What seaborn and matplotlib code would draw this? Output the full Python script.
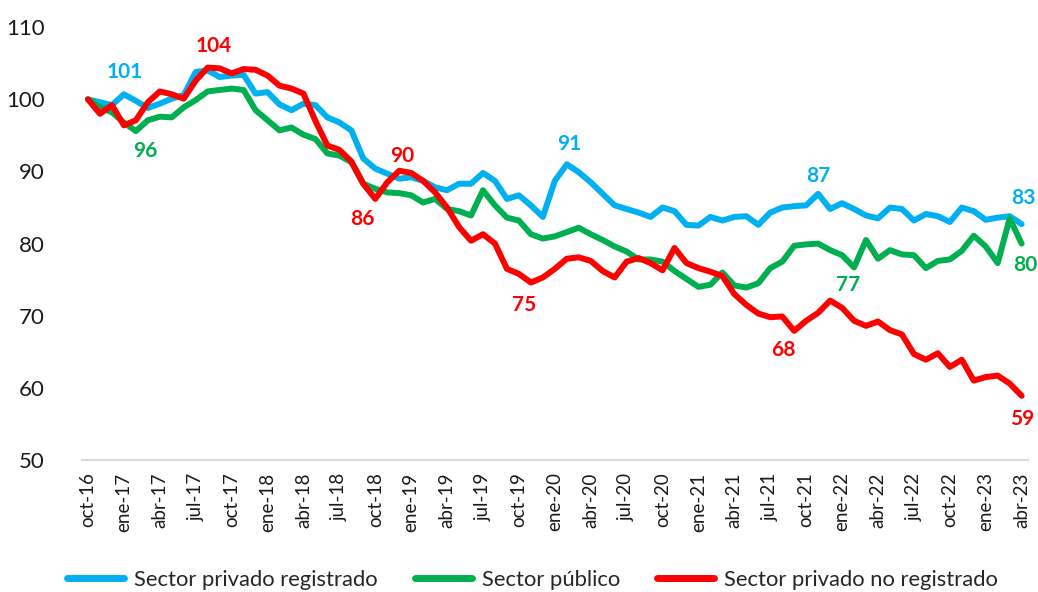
import matplotlib
matplotlib.use("Agg")
import matplotlib.pyplot as plt
import seaborn as sns
import pandas as pd
import numpy as np

# ---- data ----
series_names = ["Sector privado registrado", "Sector público", "Sector privado no registrado"]

privado_registrado = [
    100.0, 99.6, 99.2, 100.7, 99.8, 98.8, 99.4, 100.1, 100.6, 103.8,
    104.0, 103.1, 103.3, 103.4, 100.8, 101.0, 99.3, 98.5, 99.4, 99.2,
    97.5, 96.8, 95.7, 91.8, 90.4, 89.7, 89.0, 89.2, 88.7, 87.8,
    87.4, 88.3, 88.3, 89.8, 88.7, 86.2, 86.7, 85.3, 83.7, 88.7,
    91.0, 89.9, 88.5, 86.9, 85.3, 84.8, 84.3, 83.7, 85.0, 84.5,
    82.6, 82.5, 83.7, 83.2, 83.7, 83.8, 82.6, 84.3, 85.0, 85.2,
    85.3, 86.9, 84.8, 85.6, 84.8, 83.9, 83.5, 85.0, 84.8, 83.2,
    84.1, 83.8, 83.0, 85.0, 84.5, 83.3, 83.6, 83.8, 82.7,
]

publico = [
    100.0, 98.9, 98.2, 96.8, 95.6, 97.1, 97.6, 97.5, 98.9, 99.9,
    101.1, 101.3, 101.5, 101.3, 98.5, 97.1, 95.7, 96.1, 95.1, 94.5,
    92.5, 92.2, 91.3, 88.3, 87.6, 87.1, 87.0, 86.7, 85.7, 86.2,
    84.8, 84.5, 83.9, 87.4, 85.3, 83.6, 83.2, 81.3, 80.7, 81.0,
    81.6, 82.2, 81.3, 80.5, 79.6, 78.9, 77.8, 77.8, 77.5, 76.2,
    75.1, 74.0, 74.3, 76.0, 74.2, 73.9, 74.5, 76.6, 77.5, 79.7,
    79.9, 80.0, 79.1, 78.4, 76.7, 80.5, 77.9, 79.1, 78.5, 78.4,
    76.6, 77.6, 77.8, 79.0, 81.1, 79.6, 77.3, 83.5, 80.0,
]

privado_no_registrado = [
    100.0, 98.0, 99.2, 96.4, 97.1, 99.6, 101.1, 100.7, 100.1, 102.6,
    104.4, 104.3, 103.6, 104.2, 104.1, 103.3, 101.9, 101.5, 100.8, 97.0,
    93.6, 93.0, 91.4, 88.3, 86.2, 88.5, 90.1, 89.8, 88.7, 87.1,
    85.0, 82.3, 80.4, 81.3, 80.0, 76.5, 75.8, 74.6, 75.3, 76.5,
    77.9, 78.1, 77.6, 76.2, 75.3, 77.5, 78.0, 77.3, 76.3, 79.4,
    77.3, 76.6, 76.1, 75.5, 73.0, 71.5, 70.3, 69.8, 69.9, 67.9,
    69.3, 70.4, 72.1, 71.1, 69.3, 68.6, 69.2, 68.0, 67.4, 64.7,
    63.9, 64.8, 62.9, 63.9, 61.0, 61.5, 61.7, 60.6, 58.9,
]

tick_labels = [
    "oct-16", "ene-17", "abr-17", "jul-17", "oct-17", "ene-18", "abr-18",
    "jul-18", "oct-18", "ene-19", "abr-19", "jul-19", "oct-19", "ene-20",
    "abr-20", "jul-20", "oct-20", "ene-21", "abr-21", "jul-21", "oct-21",
    "ene-22", "abr-22", "jul-22", "oct-22", "ene-23", "abr-23",
]

y_ticks = [50, 60, 70, 80, 90, 100, 110]

# labelled points: (series index, month index, offset px x, offset px y)
point_labels = [
    (0, 3, 1, 22), (1, 4, 9, -20), (2, 10, 6, 22),
    (2, 24, -13, -20), (2, 26, 3, 15), (0, 40, 2, 20),
    (2, 37, -7, -22), (0, 61, 0, 18), (1, 64, -6, -18),
    (2, 59, -11, -19), (0, 78, 2, 26), (1, 78, 4, -21), (2, 78, 1, -23),
]

colors = ["#00B0F0", "#00B050", "#FF0000"]

# ---- build dataframe ----
all_series = [privado_registrado, publico, privado_no_registrado]
n = len(privado_registrado)
frames = []
for name, vals in zip(series_names, all_series):
    frames.append(pd.DataFrame({"mes": np.arange(n), "valor": vals, "serie": name}))
df = pd.concat(frames, ignore_index=True)

sns.set_theme(style="white")
plt.rcParams["font.family"] = ["Lato", "DejaVu Sans"]

fig = plt.figure(figsize=(10.38, 5.92), dpi=100)
ax = fig.add_axes([0.079, 0.223, 0.911, 0.731])

sns.lineplot(data=df, x="mes", y="valor", hue="serie", palette=colors,
             hue_order=series_names, linewidth=4.3, ax=ax, legend=False,
             sort=False)
for line in ax.get_lines():
    line.set_solid_joinstyle("round")
    line.set_solid_capstyle("round")

ax.set_xlim(-0.5, n - 0.5)
ax.set_ylim(50, 110)
ax.set_yticks(y_ticks)
ax.set_yticklabels([str(t) for t in y_ticks], fontsize=16, color="#1a1a1a")
ax.set_xticks(np.arange(0, n, 3))
ax.set_xticklabels(tick_labels, rotation=90, fontsize=13.5, color="#1a1a1a")
ax.tick_params(axis="both", length=0)
ax.tick_params(axis="y", pad=27)
ax.tick_params(axis="x", pad=9)
ax.set_xlabel("")
ax.set_ylabel("")
for s in ["top", "right", "left"]:
    ax.spines[s].set_visible(False)
ax.spines["bottom"].set_color("#D9D9D9")
ax.spines["bottom"].set_linewidth(1.5)
ax.grid(False)

for si, mi, dx, dy in point_labels:
    v = all_series[si][mi]
    ax.annotate(f"{v:.0f}", xy=(mi, v), xytext=(dx, dy), textcoords="offset pixels",
                ha="center", va="center", fontsize=15, fontweight="bold",
                color=colors[si], annotation_clip=False)

handles = [plt.Line2D([0], [0], color=c, lw=5, solid_capstyle="round") for c in colors]
fig.legend(handles, series_names, loc="lower center", bbox_to_anchor=(0.513, -0.03),
           ncol=3, frameon=False, fontsize=15.8, handlelength=2.6,
           columnspacing=1.7, handletextpad=0.45)

fig.savefig("out.png", dpi=100)
